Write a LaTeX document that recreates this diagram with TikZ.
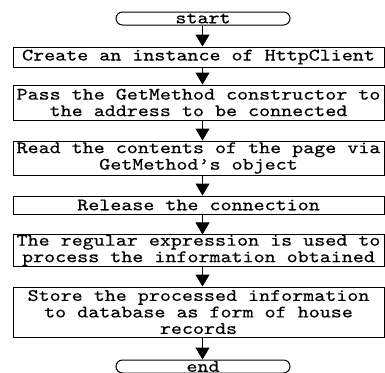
\documentclass[tikz,border=0pt]{standalone}
\usepackage{fontspec}
\newfontfamily\flowfont{lmmono10-regular.otf}[FakeStretch=1.2,FakeBold=0.4]
\usetikzlibrary{arrows.meta}

\begin{document}
\begin{tikzpicture}[x=1pt,y=-1pt,
    every node/.style={font=\flowfont\fontsize{17.5}{16.5}\selectfont},
    stepbox/.style={draw,line width=1pt,minimum width=371pt,inner sep=0pt,align=center},
    terminal/.style={draw,line width=1pt,rounded corners=6.5pt,minimum width=174pt,minimum height=13pt,inner sep=0pt},
    flow/.style={-{Triangle[width=14pt,length=12pt]},line width=1pt}]
    \useasboundingbox (0,0) rectangle (385,372);
    \coordinate (axis) at (202.5,0);
    \node[terminal] (start) at (203,18.5) {start};
    \node[stepbox,minimum height=20pt] (create) at (198.5,57) {Create an instance of HttpClient};
    \node[stepbox,minimum height=35pt] (pass) at (198.5,102.5) {Pass the GetMethod constructor to\\the address to be connected};
    \node[stepbox,minimum height=34pt] (read) at (198.5,158) {Read the contents of the page via\\GetMethod’s object};
    \node[stepbox,minimum height=18pt] (release) at (198.5,205) {Release the connection};
    \node[stepbox,minimum height=31pt] (regex) at (198.5,250.5) {The regular expression is used to\\process the information obtained};
    \node[stepbox,minimum height=50pt] (store) at (198.5,312) {Store the processed information\\to database as form of house\\records};
    \node[terminal] (end) at (203,366.5) {end};
    % arrows between the steps
    \foreach \a/\b in {start/create,create/pass,pass/read,read/release,release/regex,regex/store,store/end}
        \draw[flow] (axis |- \a.south) -- (axis |- \b.north);
\end{tikzpicture}
\end{document}
